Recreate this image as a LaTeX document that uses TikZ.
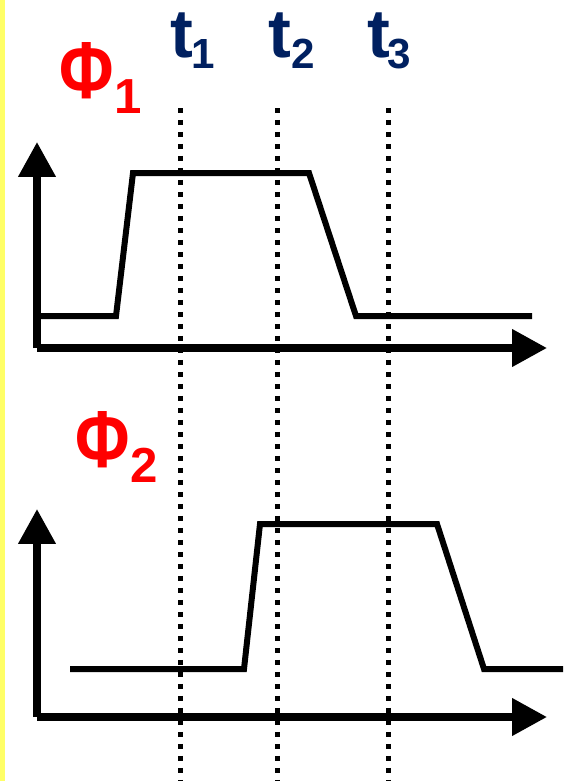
\documentclass[tikz,border=0pt]{standalone}
\usepackage{fontspec}
\setmainfont{Liberation Sans}
\usetikzlibrary{arrows.meta}
\definecolor{phired}{RGB}{255,0,0}
\definecolor{tblue}{RGB}{0,32,96}
\definecolor{stripyellow}{RGB}{255,255,102}
\newcommand{\narrowphi}{\scalebox{0.82}[1]{Φ}}
\tikzset{
    axis/.style={
        line width=0.15cm,
        -{Triangle[length=0.7cm,width=0.72cm]}
    },
    wave/.style={line width=0.12cm, line join=miter},
    marker/.style={line width=0.1cm, dash pattern=on 0.1cm off 0.14cm},
    phase/.style={text=phired, inner sep=0pt, anchor=base,
        font=\fontsize{46}{46}\selectfont\bfseries},
    phasesub/.style={text=phired, inner sep=0pt, anchor=base,
        font=\fontsize{28}{28}\selectfont\bfseries},
    tlabel/.style={text=tblue, inner sep=0pt, anchor=base,
        font=\fontsize{39}{39}\selectfont\bfseries},
    tsub/.style={text=tblue, inner sep=0pt, anchor=base,
        font=\fontsize{24}{24}\selectfont\bfseries}
}
\begin{document}
\begin{tikzpicture}[x=0.02cm,y=-0.02cm]

\useasboundingbox (0,0) rectangle (575,781);
\fill[stripyellow] (0,0) rectangle (5,781);

% time markers
\draw[marker] (180,108) -- (180,781);
\draw[marker] (277,108) -- (277,781);
\draw[marker] (388,108) -- (388,781);

\node[tlabel] (t1) at (182,57) {t};
\node[tsub] (t1s) at (203,68) {1};
\node[tlabel] (t2) at (279.5,57) {t};
\node[tsub] (t2s) at (303,68) {2};
\node[tlabel] (t3) at (378.5,57) {t};
\node[tsub] (t3s) at (399,68) {3};

% upper phase
\node[phase] (phi1) at (86.5,98) {\narrowphi};
\node[phasesub] (phi1s) at (128,113) {1};
\draw[axis] (37,348) -- (37,142);
\draw[axis] (37,348) -- (547,348);
\draw[wave] (40,316) -- (116,316) -- (133,173) -- (309,173) -- (356,316) -- (532,316);

% lower phase
\node[phase] (phi2) at (103,467) {\narrowphi};
\node[phasesub] (phi2s) at (144,482) {2};
\draw[axis] (37,717) -- (37,509);
\draw[axis] (37,717) -- (547,717);
\draw[wave] (70,669) -- (244,669) -- (260,524) -- (437,524) -- (484,669) -- (563,669);

\end{tikzpicture}
\end{document}
